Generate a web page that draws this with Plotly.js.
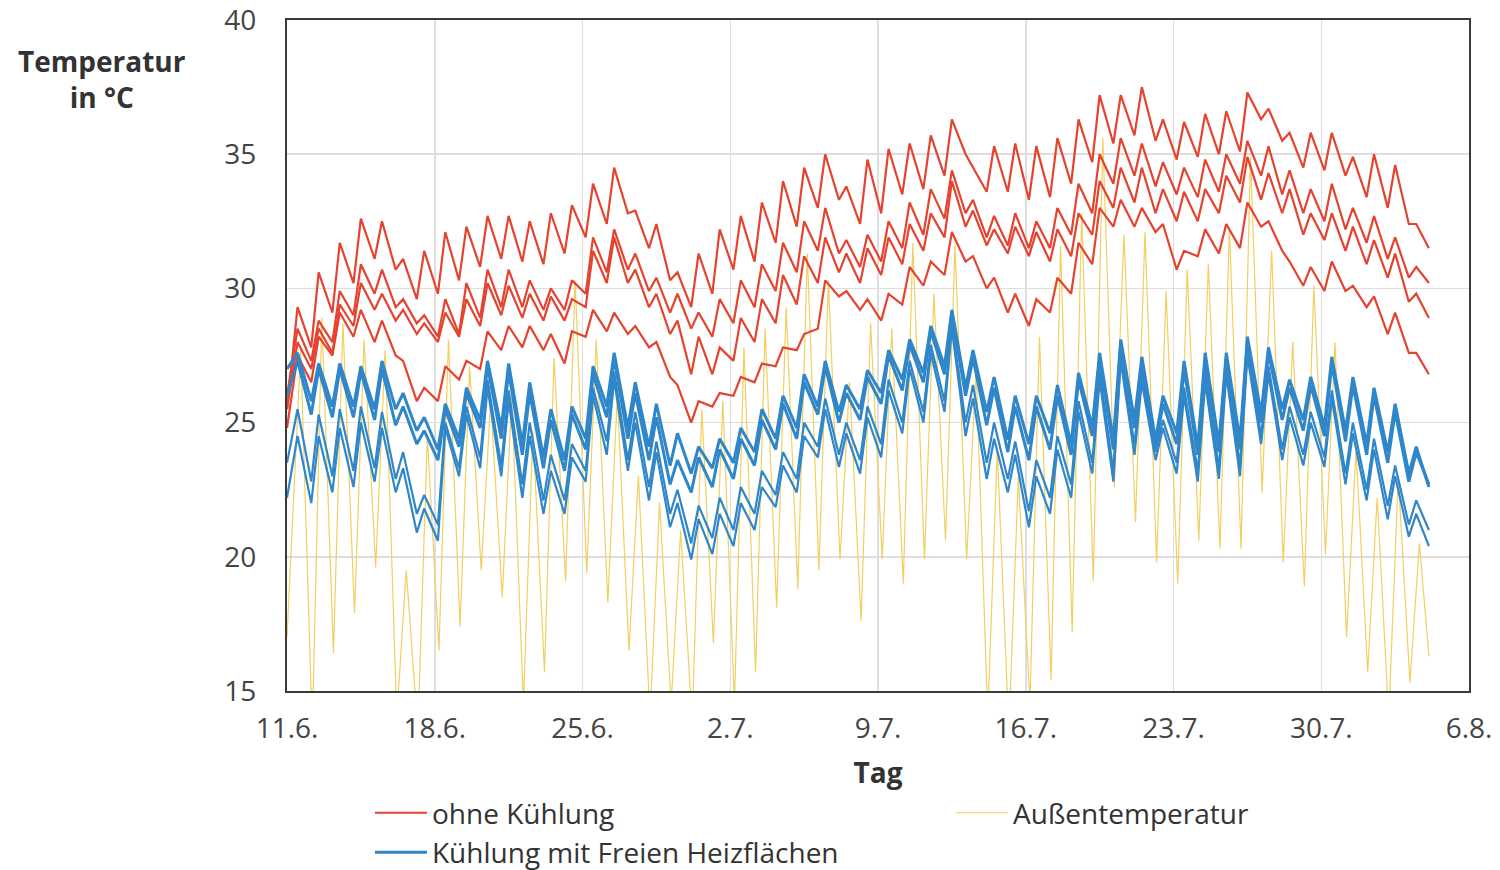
<!DOCTYPE html>
<html><head><meta charset="utf-8">
<script src="https://cdn.plot.ly/plotly-3.0.1.min.js"></script>
<style>html,body{margin:0;padding:0;background:#fff;} #chart{width:1500px;height:870px;}</style>
</head><body><div id="chart"></div>
<script>
// x axis: days counted from 11.6.
const tickDays = [0, 7, 14, 21, 28, 35, 42, 49, 56];
const tickLabels = ["11.6.", "18.6.", "25.6.", "2.7.", "9.7.", "16.7.", "23.7.", "30.7.", "6.8."];
const yTicks = [15, 20, 25, 30, 35, 40];

// each entry: [night low, day high] of one day
const ohne1 = [[25.5,29.3],[27.8,30.6],[29.1,31.7],[30.2,32.6],[31.1,32.5],[30.7,31.1],[29.6,31.4],[29.8,32.1],[30.3,32.3],[30.8,32.7],[31.1,32.7],[31.0,32.5],[30.9,32.8],[31.3,33.1],[31.9,33.9],[32.4,34.5],[32.8,32.9],[31.5,32.4],[30.3,30.6],[29.3,31.3],[29.8,32.2],[30.7,32.7],[31.0,33.2],[31.7,34.0],[32.3,34.5],[33.0,35.0],[33.3,33.8],[32.4,34.8],[32.8,35.2],[33.5,35.4],[33.7,35.7],[34.2,36.3],[35.0,34.5],[33.6,35.3],[33.6,35.4],[33.3,35.3],[33.4,35.6],[33.9,36.3],[34.7,37.2],[35.4,37.2],[35.7,37.5],[35.5,36.3],[34.8,36.2],[34.9,36.5],[35.0,36.6],[35.1,37.3],[36.3,36.7],[35.5,35.8],[34.5,35.8],[34.4,35.8],[34.2,34.9],[33.4,35.0],[33.0,34.6],[32.4,32.4]];
const ohne1End = 31.5;
const ohne2 = [[26.0,28.5],[27.3,28.8],[28.0,29.9],[29.0,30.9],[29.8,30.7],[29.3,29.6],[28.7,29.0],[28.2,29.6],[28.3,30.2],[28.9,30.7],[29.3,30.7],[29.3,30.3],[29.2,30.0],[29.2,30.3],[29.8,31.9],[30.6,32.2],[30.7,31.3],[29.9,30.4],[29.1,29.8],[28.5,29.1],[28.2,29.6],[28.7,30.3],[29.3,30.9],[29.9,31.7],[30.6,32.5],[31.4,33.0],[31.3,31.8],[30.8,32.0],[31.0,32.5],[31.5,33.2],[32.0,33.7],[32.6,34.4],[32.8,33.3],[31.9,32.7],[31.6,32.8],[31.5,32.5],[31.5,33.0],[32.0,33.9],[32.8,35.0],[33.9,35.6],[34.2,35.4],[33.8,34.7],[33.5,34.5],[33.4,34.8],[33.6,35.0],[33.9,35.5],[34.2,35.3],[33.5,34.4],[32.8,33.7],[32.5,33.9],[32.2,33.0],[31.7,32.7],[31.1,31.9],[30.4,30.8]];
const ohne2End = 30.2;
const ohne3 = [[25.5,28.0],[27.0,28.5],[27.6,29.4],[28.6,30.2],[29.2,29.8],[28.8,29.2],[28.3,28.7],[28.0,29.1],[28.2,29.6],[28.6,30.2],[29.0,30.1],[28.9,29.8],[28.8,29.7],[28.8,29.6],[29.3,31.4],[30.2,31.9],[30.2,30.7],[29.3,29.8],[28.3,28.8],[26.8,28.2],[26.8,27.8],[27.3,28.9],[28.0,29.6],[28.7,30.5],[29.4,31.2],[30.2,31.9],[30.6,31.3],[30.2,31.5],[30.5,31.9],[30.9,32.4],[31.4,32.8],[31.9,34.0],[32.3,32.9],[31.6,32.2],[31.3,32.3],[31.2,32.1],[31.0,32.2],[31.2,32.8],[32.0,34.0],[33.0,34.5],[33.2,34.5],[32.8,33.7],[32.5,33.6],[32.5,33.7],[32.8,34.2],[33.2,34.9],[33.3,34.3],[32.8,33.7],[32.0,32.8],[31.8,32.8],[31.4,32.3],[30.9,31.8],[30.4,31.3],[29.5,29.8]];
const ohne3End = 28.9;
const ohne4 = [[24.8,27.5],[26.5,28.2],[27.5,29.1],[28.2,29.2],[28.0,28.8],[27.5,27.3],[25.8,26.3],[25.8,27.1],[26.6,27.3],[27.0,28.4],[27.7,28.6],[27.8,28.6],[27.7,28.3],[27.2,28.4],[28.2,29.2],[28.4,29.1],[28.3,28.6],[27.8,28.0],[26.7,26.4],[25.0,25.8],[25.6,26.1],[26.0,26.7],[26.5,27.2],[27.1,27.8],[27.7,28.3],[28.5,30.3],[29.7,29.9],[29.2,29.6],[28.8,29.8],[29.4,30.8],[30.1,31.0],[30.5,32.1],[31.0,31.2],[30.0,30.4],[29.1,29.8],[28.6,29.6],[29.1,30.4],[29.8,31.7],[30.9,33.0],[32.3,33.3],[32.3,33.0],[32.1,32.4],[30.7,31.4],[31.2,32.2],[31.3,32.4],[31.5,33.2],[32.3,32.5],[31.4,31.0],[30.1,30.8],[29.9,31.0],[29.9,30.1],[29.3,29.7],[28.3,29.1],[27.6,27.6]];
const ohne4End = 26.8;

const kuehl1 = [[27.0,27.6],[25.8,27.2],[25.6,27.2],[25.6,27.1],[25.5,27.3],[25.5,26.1],[24.7,25.2],[24.0,25.7],[24.4,26.3],[25.1,27.3],[24.8,27.2],[24.2,26.5],[23.7,25.5],[23.6,25.6],[24.4,27.1],[25.6,27.6],[24.8,26.5],[24.1,25.7],[23.4,24.6],[23.1,24.1],[23.3,24.4],[23.5,24.8],[23.9,25.5],[24.4,26.0],[24.8,26.8],[25.6,27.3],[25.4,26.4],[25.5,26.95],[26.1,27.7],[26.6,28.1],[26.85,28.6],[27.1,29.2],[26.3,27.7],[25.4,26.7],[24.35,26.0],[24.2,26.0],[24.6,26.4],[24.2,26.85],[24.85,27.6],[24.35,28.1],[25.1,27.45],[24.35,26.0],[24.6,27.3],[24.1,27.6],[24.2,27.6],[24.35,28.2],[25.35,27.8],[25.5,26.6],[25.1,26.7],[24.85,27.45],[24.7,26.7],[24.2,26.3],[23.9,25.7],[23.1,24.1]];
const kuehl1End = 22.6;
const kuehl2 = [[26.0,27.3],[25.3,27.0],[25.2,27.0],[25.2,26.9],[25.1,27.0],[24.9,25.6],[24.2,24.7],[23.6,25.5],[24.1,26.1],[24.8,27.1],[24.4,26.9],[23.8,26.1],[23.3,25.1],[23.2,25.3],[24.0,26.8],[25.2,27.4],[24.4,26.1],[23.6,25.2],[22.7,23.6],[22.4,23.7],[22.6,24.0],[22.9,24.4],[23.4,25.1],[24.0,25.7],[24.4,26.5],[25.3,27.1],[25.0,26.1],[25.1,26.7],[25.7,27.5],[26.2,27.9],[26.5,28.4],[26.8,29.0],[26.0,27.4],[24.9,26.3],[23.9,25.6],[23.6,25.6],[24.0,26.0],[23.8,26.6],[24.5,27.4],[24.0,27.9],[24.8,27.2],[24.1,25.7],[24.2,27.0],[23.8,27.3],[23.9,27.4],[24.0,28.0],[25.0,27.6],[25.1,26.3],[24.7,26.4],[24.5,27.2],[24.3,26.4],[23.8,26.0],[23.5,25.4],[22.8,23.9]];
const kuehl2End = 22.7;
const kuehl3 = [[23.5,25.5],[22.8,25.3],[23.0,25.5],[23.2,25.6],[23.3,25.4],[22.9,23.9],[21.6,22.3],[21.2,25.0],[23.3,25.6],[23.7,26.6],[23.4,26.2],[22.7,25.0],[22.1,23.8],[22.1,24.2],[23.2,26.3],[24.3,26.9],[23.6,25.4],[22.6,24.3],[21.6,22.5],[20.5,21.9],[20.7,22.2],[21.0,22.6],[21.6,23.2],[22.3,23.9],[22.9,25.0],[24.1,25.9],[23.8,25.0],[23.6,25.6],[24.2,26.6],[25.0,27.3],[25.4,27.9],[25.8,28.7],[25.0,26.4],[23.5,25.0],[22.9,24.3],[21.7,23.6],[22.2,24.5],[22.7,25.8],[23.5,26.9],[23.2,27.5],[24.2,26.8],[23.9,25.1],[23.5,26.3],[23.2,26.8],[23.3,27.0],[23.4,27.7],[24.5,27.1],[24.0,25.6],[23.8,25.4],[23.7,26.2],[23.1,25.0],[22.5,24.4],[21.9,23.4],[21.2,22.1]];
const kuehl3End = 21.0;
const kuehl4 = [[22.2,24.5],[22.0,24.5],[22.4,24.8],[22.6,25.0],[22.8,24.8],[22.4,23.3],[20.9,21.8],[20.6,24.8],[23.0,25.3],[23.3,26.3],[23.0,25.8],[22.2,24.5],[21.6,23.2],[21.6,23.7],[22.8,26.0],[23.8,26.6],[23.2,25.0],[22.1,23.9],[21.1,22.0],[19.9,21.4],[20.1,21.6],[20.4,22.0],[21.0,22.6],[21.85,23.4],[22.4,24.5],[23.7,25.5],[23.35,24.6],[23.1,25.2],[23.7,26.2],[24.6,27.0],[25.0,27.6],[25.4,28.5],[24.5,25.9],[22.9,24.4],[22.4,23.8],[21.1,23.0],[21.6,24.0],[22.2,25.4],[23.1,26.6],[22.8,27.3],[23.8,26.5],[23.6,24.8],[23.1,26.0],[22.8,26.5],[22.9,26.8],[23.0,27.5],[24.2,26.8],[23.6,25.2],[23.4,25.0],[23.35,25.9],[22.7,24.6],[22.1,24.0],[21.4,23.0],[20.75,21.6]];
const kuehl4End = 20.4;

const aussen = [[17.0,27.7],[13.5,28.9],[16.4,28.7],[17.9,28.1],[19.6,27.7],[14.0,19.5],[13.5,24.5],[16.5,28.1],[17.4,27.1],[19.5,25.8],[18.5,26.0],[14.5,24.7],[15.7,27.4],[19.1,30.3],[19.4,28.1],[18.3,26.0],[16.5,23.0],[14.0,22.0],[14.5,21.0],[13.8,25.5],[16.8,25.8],[14.5,27.8],[15.7,28.5],[18.1,29.3],[18.8,31.3],[19.5,30.3],[19.9,26.5],[17.6,28.7],[19.9,28.5],[19.0,31.7],[19.9,29.8],[20.6,31.6],[19.9,27.0],[14.0,24.0],[13.5,23.0],[14.5,28.2],[15.4,31.6],[17.2,32.8],[19.1,35.6],[22.6,32.0],[21.3,32.1],[19.8,29.9],[19.0,30.7],[20.6,30.9],[20.3,32.2],[20.3,34.9],[22.4,31.4],[19.8,28.0],[18.9,30.1],[20.1,28.0],[17.0,24.0],[15.7,22.2],[14.0,23.0],[15.3,20.5]];
const aussenEnd = 16.3;

const RED = '#e5432f', BLUE = '#2f86c9', YELLOW = '#f2cf60';

// low in the early morning, high in the afternoon of each day
function series(pairs, end, tLow, tHigh) {
  const x = [], y = [];
  pairs.forEach((p, k) => {
    x.push(k === 0 ? 0 : k + tLow); y.push(p[0]);
    x.push(k + tHigh); y.push(p[1]);
  });
  x.push(pairs.length + 0.1); y.push(end);
  return { x, y };
}

const traces = [];
const a = series(aussen, aussenEnd, 0.2, 0.65);
traces.push({ x: a.x, y: a.y, type: 'scatter', mode: 'lines', name: 'Außentemperatur',
  line: { color: YELLOW, width: 1.2 }, legend: 'legend2', hoverinfo: 'skip' });

[[ohne1, ohne1End], [ohne2, ohne2End], [ohne3, ohne3End], [ohne4, ohne4End]].forEach((s, i) => {
  const d = series(s[0], s[1], 0.15, 0.5);
  traces.push({ x: d.x, y: d.y, type: 'scatter', mode: 'lines', name: 'ohne Kühlung',
    legendgroup: 'ohne', showlegend: i === 0, legend: 'legend',
    line: { color: RED, width: 2.2 }, hoverinfo: 'skip' });
});
[[kuehl1, kuehl1End], [kuehl2, kuehl2End], [kuehl3, kuehl3End], [kuehl4, kuehl4End]].forEach((s, i) => {
  const d = series(s[0], s[1], 0.15, 0.5);
  traces.push({ x: d.x, y: d.y, type: 'scatter', mode: 'lines', name: 'Kühlung mit Freien Heizflächen',
    legendgroup: 'kuehl', showlegend: i === 0, legend: 'legend',
    line: { color: BLUE, width: i < 2 ? 3 : 2.2 }, hoverinfo: 'skip' });
});

const FONT = 'Open Sans, Noto Sans, sans-serif';
const layout = {
  width: 1500, height: 870,
  margin: { l: 287, r: 31, t: 20, b: 179, autoexpand: false },
  paper_bgcolor: '#ffffff', plot_bgcolor: '#ffffff',
  font: { family: FONT, color: '#333' },
  xaxis: {
    range: [0, 56], tickvals: tickDays, ticktext: tickLabels, automargin: false,
    showgrid: true, gridcolor: '#dedede', gridwidth: 1.5, zeroline: false,
    showline: true, mirror: true, linecolor: '#3a3a3a', linewidth: 2,
    ticks: '', ticklabelstandoff: 11, ticklabeloverflow: 'allow',
    tickfont: { family: FONT, size: 28, color: '#444' },
    title: { text: '<b>Tag</b>', font: { family: FONT, size: 28, color: '#333' }, standoff: 19 }
  },
  yaxis: {
    range: [15, 40], tickvals: yTicks, automargin: false,
    showgrid: true, gridcolor: '#dedede', gridwidth: 1.5, zeroline: false,
    showline: true, mirror: true, linecolor: '#3a3a3a', linewidth: 2,
    ticks: '', ticklabelstandoff: 23, ticklabeloverflow: 'allow',
    tickfont: { family: FONT, size: 28, color: '#444' }
  },
  annotations: [{
    xref: 'paper', yref: 'paper', x: -0.1565, y: 0.912, xanchor: 'center', yanchor: 'middle',
    text: '<b>Temperatur</b><br><b>in °C</b>', showarrow: false, align: 'center',
    font: { family: FONT, size: 28, color: '#333' }
  }],
  legend: {
    x: 0.0702, y: -0.1446, xanchor: 'left', yanchor: 'top', orientation: 'v', itemwidth: 52,
    font: { family: FONT, size: 28, color: '#333' }, bgcolor: 'rgba(0,0,0,0)', tracegroupgap: 0
  },
  legend2: {
    x: 0.5618, y: -0.1446, xanchor: 'left', yanchor: 'top', orientation: 'v', itemwidth: 52,
    font: { family: FONT, size: 28, color: '#333' }, bgcolor: 'rgba(0,0,0,0)'
  },
  showlegend: true
};

Plotly.newPlot('chart', traces, layout, { staticPlot: true, displayModeBar: false });
</script>
</body></html>
